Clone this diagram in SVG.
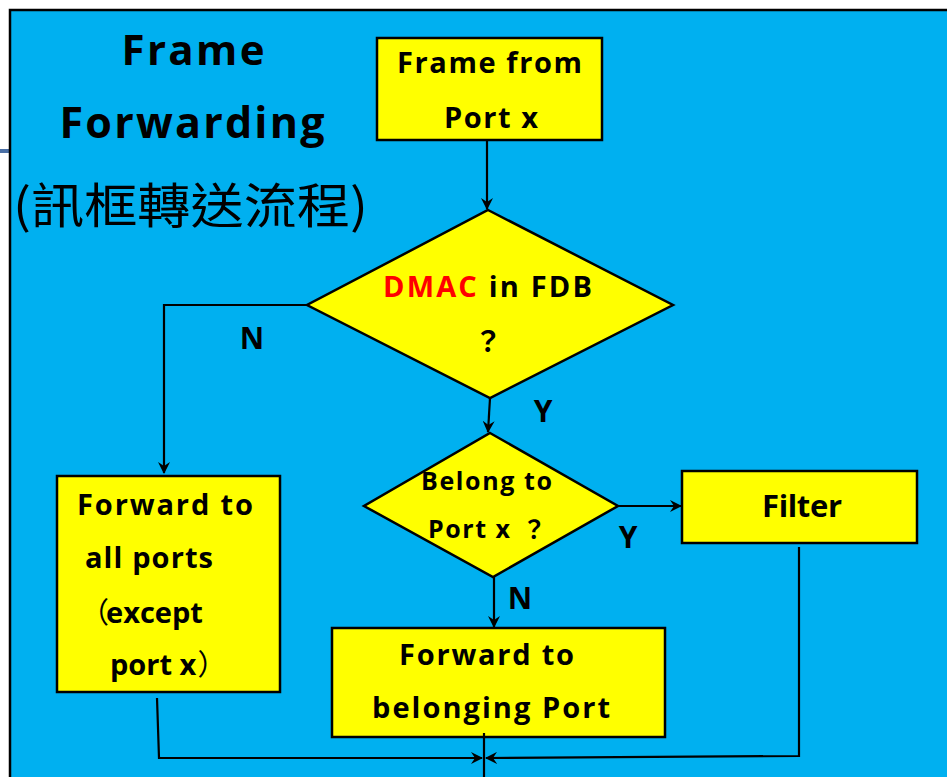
<svg xmlns="http://www.w3.org/2000/svg" width="947" height="777" viewBox="0 0 947 777">
<style>
.box{fill:#FFFF00;stroke:#000;stroke-width:2.5}
.ln{fill:none;stroke:#000;stroke-width:2.2}
.t{font-family:"Open Sans","Noto Sans","Noto Sans CJK TC",sans-serif;font-weight:bold;fill:#000}
.cjk{font-family:"Noto Sans CJK TC","Noto Sans CJK SC",sans-serif;font-weight:normal;fill:#000}
.q{font-family:"Noto Sans CJK TC","Noto Sans CJK SC",sans-serif;font-weight:bold;fill:#000}
</style>
<defs>
<marker id="ah" viewBox="0 0 12 12" refX="11" refY="6" markerWidth="12" markerHeight="12" markerUnits="userSpaceOnUse" orient="auto">
<path d="M0,0 L12,6 L0,12 L4,6 z" fill="#000"/>
</marker>
</defs>
<rect x="0" y="0" width="947" height="777" fill="#fff"/>
<line x1="0" y1="151" x2="10" y2="151" stroke="#4A6FA5" stroke-width="4"/>
<rect x="10" y="10" width="950" height="780" fill="#00B0F0" stroke="#000" stroke-width="2.5"/>

<g id="title">
<text class="t" x="193" y="65" font-size="42" text-anchor="middle" textLength="143">Frame</text>
<text class="t" x="192" y="138" font-size="43" text-anchor="middle" textLength="265">Forwarding</text>
<text class="cjk" x="13" y="223" font-size="48" textLength="355" lengthAdjust="spacingAndGlyphs">(訊框轉送流程)</text>
</g>

<g id="start">
<rect class="box" x="377" y="38" width="225" height="102"/>
<text class="t" x="397" y="73" font-size="29" textLength="185">Frame from</text>
<text class="t" x="444" y="128" font-size="29" textLength="94">Port x</text>
</g>

<g id="dmac">
<polygon class="box" points="488,210 673,305 490,398 307,305"/>
<text class="t" x="383" y="297" font-size="29" textLength="209"><tspan fill="#FF0000">DMAC</tspan> in FDB</text>
<text class="q" x="488" y="352" font-size="28" text-anchor="middle">？</text>
</g>

<g id="belong">
<polygon class="box" points="490,433 618,506 493,577 364,506"/>
<text class="t" x="421" y="490" font-size="25" textLength="131">Belong to</text>
<text class="t" x="428" y="538" font-size="25" textLength="82">Port x</text>
<text class="q" x="534" y="538" font-size="24" text-anchor="middle">？</text>
</g>

<g id="filter">
<rect class="box" x="682" y="471" width="235" height="72"/>
<text class="t" x="762" y="517" font-size="31" textLength="80">Filter</text>
</g>

<g id="flood">
<rect class="box" x="57" y="476" width="223" height="216"/>
<text class="t" x="77" y="515" font-size="29" textLength="176">Forward to</text>
<text class="t" x="85" y="568" font-size="29" textLength="128">all ports</text>
<text class="t" x="80" y="623" font-size="29"><tspan class="cjk">（</tspan><tspan dx="-3">except</tspan></text>
<text class="t" x="110" y="675" font-size="29">port x<tspan class="cjk" dx="1">）</tspan></text>
</g>

<g id="forward">
<rect class="box" x="332" y="628" width="333" height="109"/>
<text class="t" x="399" y="665" font-size="29" textLength="175">Forward to</text>
<text class="t" x="372" y="718" font-size="29" textLength="238">belonging Port</text>
</g>

<g id="connectors">
<line class="ln" x1="487" y1="140" x2="487" y2="209" marker-end="url(#ah)"/>
<polyline class="ln" points="307,305 164,305 164,473" marker-end="url(#ah)"/>
<line class="ln" x1="490" y1="398" x2="488" y2="432" marker-end="url(#ah)"/>
<line class="ln" x1="618" y1="506" x2="681" y2="506" marker-end="url(#ah)"/>
<line class="ln" x1="494" y1="577" x2="494" y2="627" marker-end="url(#ah)"/>
<polyline class="ln" points="157,698 159,758 482,758" marker-end="url(#ah)"/>
<polyline class="ln" points="799,547 799,756 486,758" marker-end="url(#ah)"/>
<line class="ln" x1="484" y1="733" x2="484" y2="777"/>
</g>

<g id="labels">
<text class="t" x="252" y="349" font-size="30" text-anchor="middle">N</text>
<text class="t" x="543" y="422" font-size="30" text-anchor="middle">Y</text>
<text class="t" x="628" y="548" font-size="30" text-anchor="middle">Y</text>
<text class="t" x="520" y="609" font-size="30" text-anchor="middle">N</text>
</g>
</svg>
